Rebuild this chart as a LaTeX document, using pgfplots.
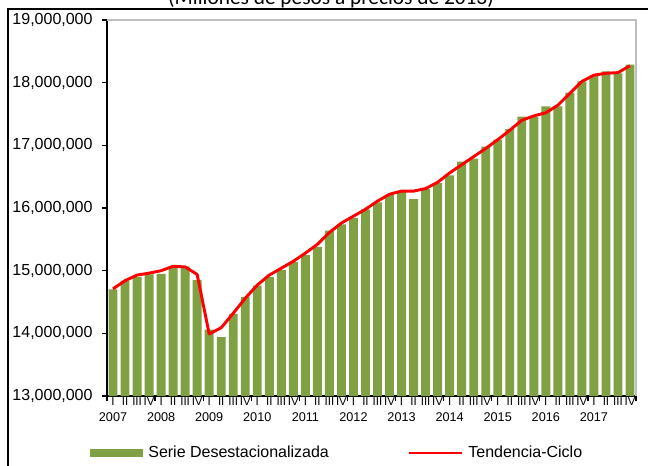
\documentclass[border=0pt]{standalone}
\usepackage{pgfplots}
\pgfplotsset{compat=1.18}
\usepackage{fontspec}
\setmainfont{Liberation Sans}
\newfontfamily\calibri{Carlito}
\definecolor{barcol}{RGB}{128,160,68}
\definecolor{framegray}{RGB}{190,190,190}
\newcommand{\yr}[1]{{\fontsize{9.5}{12}\selectfont #1}}
\begin{document}
\begin{tikzpicture}
\useasboundingbox (0pt,0pt) rectangle (486pt,348.75pt);
\draw[line width=0.9pt] (6pt,-5pt) -- (6pt,342pt) -- (495pt,342pt);
\node[font=\calibri\fontsize{16}{19}\selectfont, anchor=base, inner sep=0pt] at (248.25pt,345pt) {(Millones de pesos a precios de 2013)};
\begin{axis}[
  name=ax,
  at={(80.25pt,51.75pt)}, anchor=south west,
  scale only axis, width=396.75pt, height=282pt,
  xmin=0.5, xmax=44.5, ymin=13000000, ymax=19000000,
  axis lines*=left,
  axis line style={black, line width=0.9pt},
  tick align=outside,
  major tick length=3.8pt,
  tick style={black, line width=0.9pt},
  ytick={13000000,14000000,15000000,16000000,17000000,18000000,19000000},
  yticklabels={{13,000,000},{14,000,000},{15,000,000},{16,000,000},{17,000,000},{18,000,000},{19,000,000}},
  yticklabel style={font=\fontsize{12}{14}\selectfont, xshift=-3.5pt},
  scaled y ticks=false,
  xtick={0.5,4.5,...,44.5},
  xticklabels={},
  extra x ticks={1,2,...,44},
  extra x tick style={major tick length=0pt},
  extra x tick labels={{I\\\yr{2007}},II,III,IV,{I\\\yr{2008}},II,III,IV,{I\\\yr{2009}},II,III,IV,{I\\\yr{2010}},II,III,IV,{I\\\yr{2011}},II,III,IV,{I\\\yr{2012}},II,III,IV,{I\\\yr{2013}},II,III,IV,{I\\\yr{2014}},II,III,IV,{I\\\yr{2015}},II,III,IV,{I\\\yr{2016}},II,III,IV,{I\\\yr{2017}},II,III,IV},
  xticklabel style={font=\fontsize{8.6}{12}\selectfont, align=center, inner sep=1pt, anchor=north},
  legend style={draw=none, fill=none, at={(axis description cs:-0.032,-0.1516)}, anchor=west,
    legend columns=2, inner sep=0pt, font=\fontsize{12}{14}\selectfont, nodes={inner sep=0pt},
    /tikz/every odd column/.append style={column sep=3.75pt},
    /tikz/every even column/.append style={column sep=58.9pt}},
]
\addplot[ybar, bar width=0.74, bar shift=0pt, fill=barcol, draw=none,
  legend image code/.code={\fill[barcol] (0pt,-3pt) rectangle (39.75pt,3pt);}]
coordinates {
(1,14700000) (2,14840000) (3,14900000) (4,14940000) (5,14950000) (6,15070000) (7,15070000) (8,14850000)
(9,14060000) (10,13940000) (11,14310000) (12,14580000) (13,14760000) (14,14900000) (15,15010000) (16,15140000)
(17,15250000) (18,15380000) (19,15640000) (20,15740000) (21,15840000) (22,15980000) (23,16090000) (24,16210000)
(25,16260000) (26,16140000) (27,16300000) (28,16400000) (29,16520000) (30,16740000) (31,16790000) (32,16980000)
(33,17090000) (34,17260000) (35,17460000) (36,17450000) (37,17620000) (38,17620000) (39,17840000) (40,18020000)
(41,18110000) (42,18180000) (43,18150000) (44,18290000)
};
\addlegendentry{Serie Desestacionalizada}
\addplot[red, line width=2.2pt, mark=none, line join=round,
  legend image code/.code={\draw[red, line width=2.2pt] (0pt,0pt) -- (39.75pt,0pt);}]
coordinates {
(1,14710000) (2,14840000) (3,14930000) (4,14960000) (5,15000000) (6,15070000) (7,15060000) (8,14940000)
(9,13990000) (10,14090000) (11,14320000) (12,14560000) (13,14770000) (14,14930000) (15,15040000) (16,15150000)
(17,15280000) (18,15420000) (19,15610000) (20,15760000) (21,15870000) (22,15980000) (23,16110000) (24,16220000)
(25,16270000) (26,16270000) (27,16310000) (28,16410000) (29,16560000) (30,16690000) (31,16820000) (32,16950000)
(33,17090000) (34,17240000) (35,17400000) (36,17470000) (37,17520000) (38,17640000) (39,17830000) (40,18020000)
(41,18120000) (42,18150000) (43,18160000) (44,18270000)
};
\addlegendentry{Tendencia-Ciclo}
\end{axis}
\draw[framegray, line width=0.9pt] (ax.north west) -- (ax.north east) -- (ax.south east);
\end{tikzpicture}
\end{document}
